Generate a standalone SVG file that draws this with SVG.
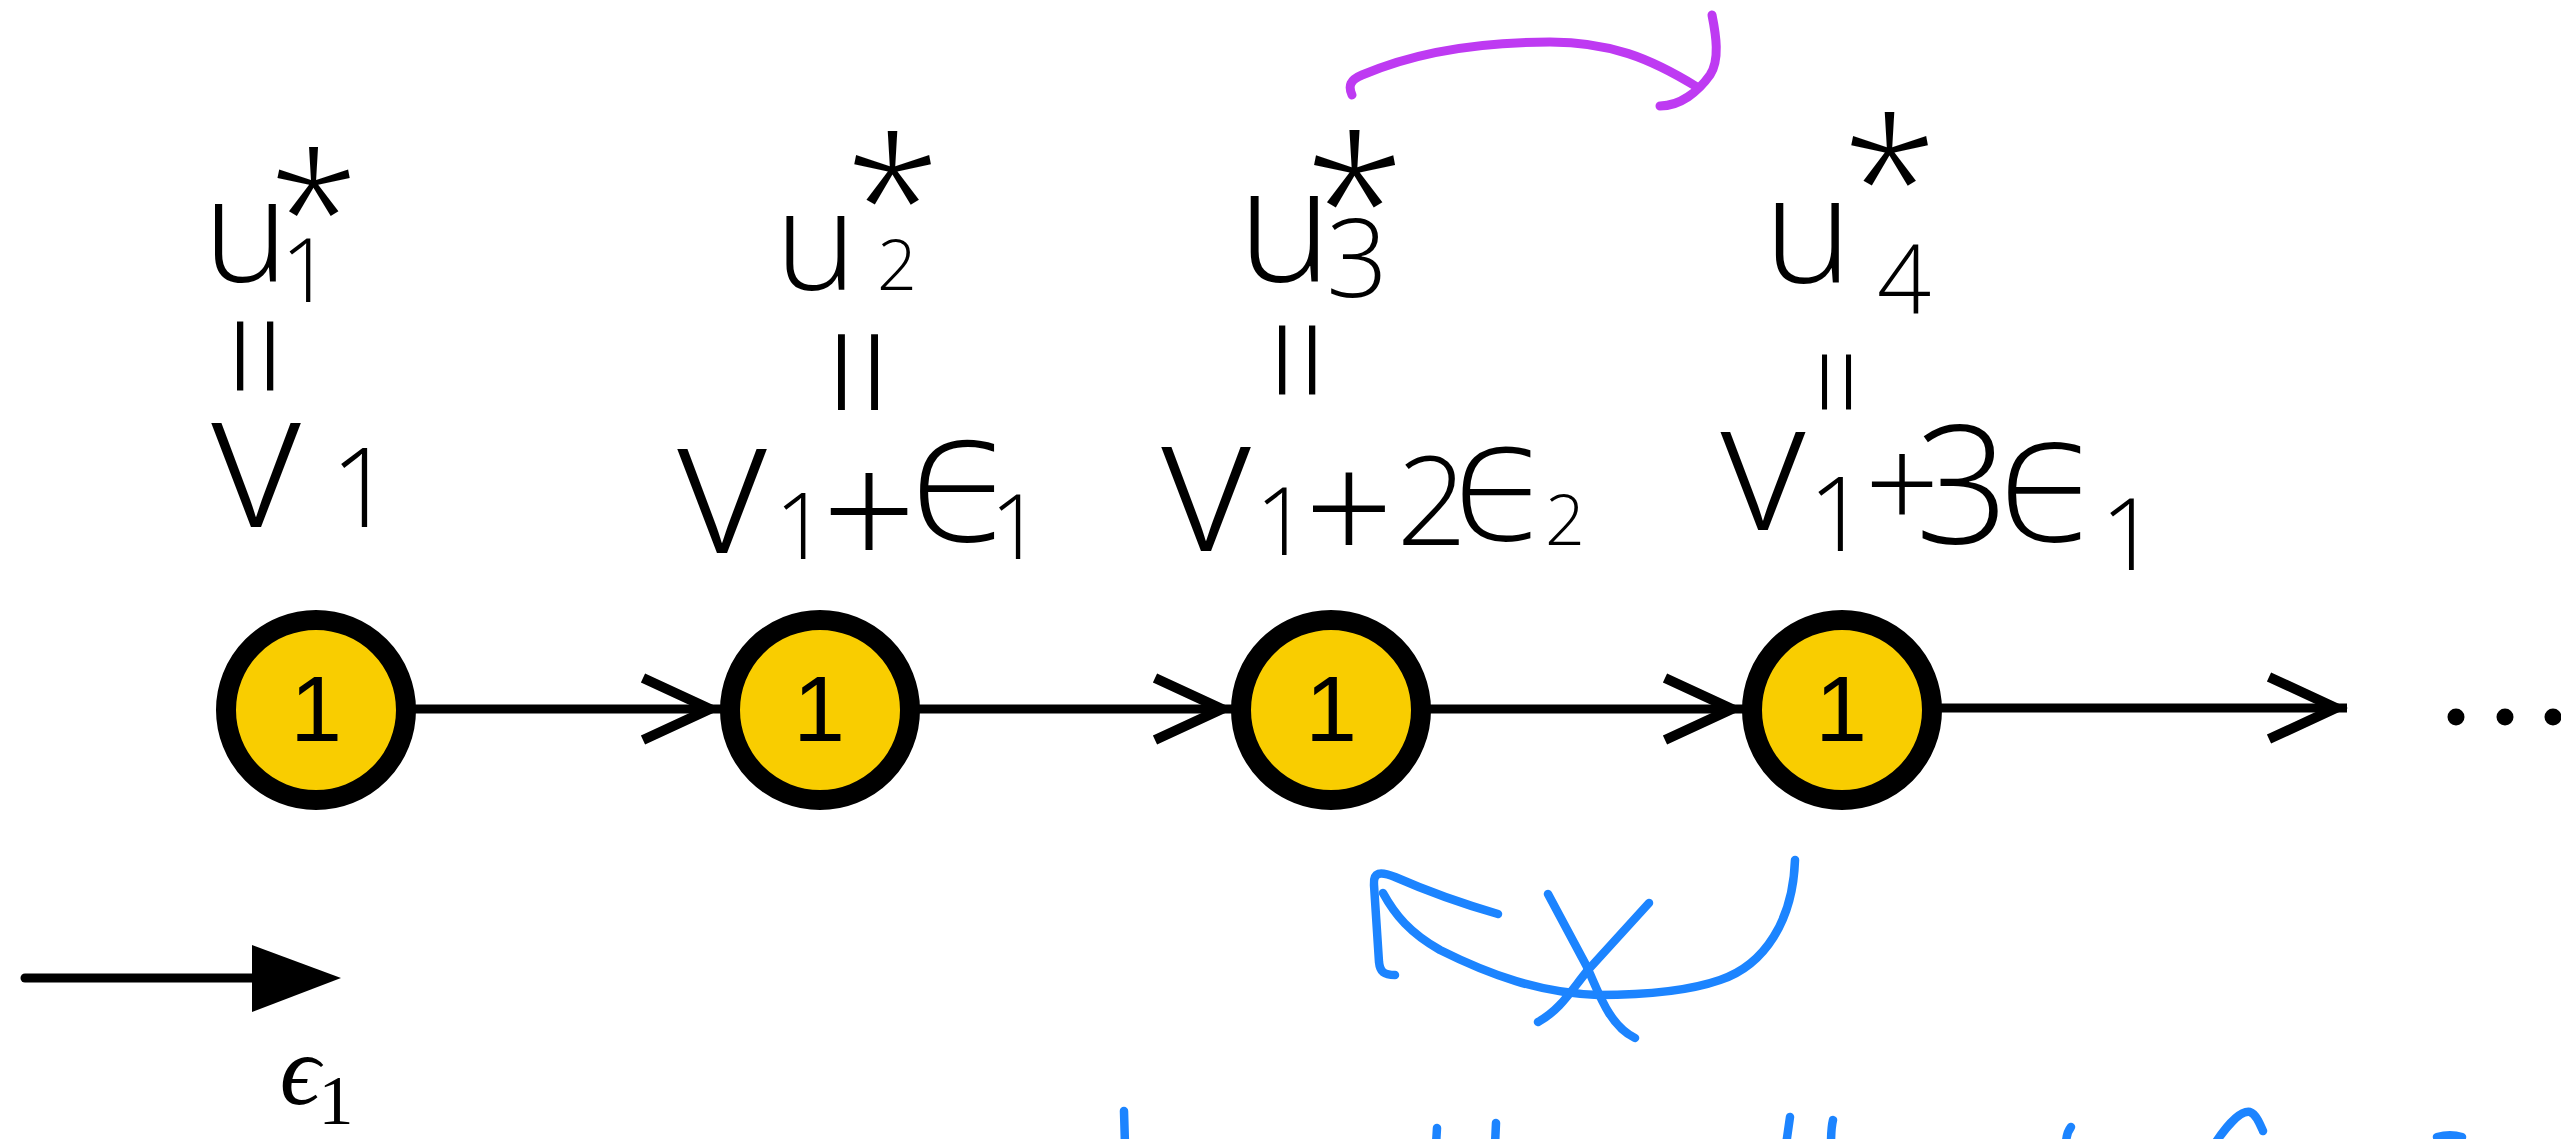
<svg xmlns="http://www.w3.org/2000/svg" width="2561" height="1139" viewBox="0 0 2561 1139">
<defs>
<style>
.node circle{fill:#F9CD00;stroke:#000;stroke-width:20}
.node text{font-family:"Liberation Sans",Arial,sans-serif;font-size:93px;text-anchor:middle;fill:#000}
.edge{stroke:#000;stroke-width:9;fill:none}
.hw{font-family:"Open Sans","DejaVu Sans ExtraLight","DejaVu Sans",sans-serif;font-weight:300;fill:#000;text-anchor:middle}
.purple{stroke:#BE3AF2;stroke-width:9;fill:none;stroke-linecap:round;stroke-linejoin:round}
.blue{stroke:#1C84FF;stroke-width:8.5;fill:none;stroke-linecap:round;stroke-linejoin:round}
.dot{fill:#000}
</style>
<marker id="chev" markerUnits="userSpaceOnUse" viewBox="-100 -45 110 90" markerWidth="110" markerHeight="90" refX="0" refY="0" orient="auto">
<path d="M-78,-31 L-11,0 L-78,31" fill="none" stroke="#000" stroke-width="10"/>
</marker>
</defs>
<rect width="2561" height="1139" fill="#fff"/>

<g id="connectors">
<path class="edge" d="M410,709 L721,709" marker-end="url(#chev)"/>
<path class="edge" d="M915,709 L1233,709" marker-end="url(#chev)"/>
<path class="edge" d="M1427,709 L1743,709" marker-end="url(#chev)"/>
<path class="edge" d="M1937,708 L2347,708" marker-end="url(#chev)"/>
</g>

<g id="node-1" class="node"><circle cx="316" cy="710" r="90"/><text x="316" y="741">1</text></g>
<g id="node-2" class="node"><circle cx="820" cy="710" r="90"/><text x="819" y="741">1</text></g>
<g id="node-3" class="node"><circle cx="1331" cy="710" r="90"/><text x="1331" y="741">1</text></g>
<g id="node-4" class="node"><circle cx="1842" cy="710" r="90"/><text x="1841" y="741">1</text></g>

<g id="ellipsis">
<circle class="dot" cx="2456" cy="717" r="8.5"/>
<circle class="dot" cx="2505" cy="717" r="8.5"/>
<circle class="dot" cx="2553" cy="717" r="8.5"/>
</g>

<g id="legend">
<path d="M25,978 L256,978" stroke="#000" stroke-width="9" stroke-linecap="round"/>
<path d="M252,945 L341,978 L252,1012 Z" fill="#000"/>
<text x="300" y="1104" font-family="'Liberation Serif','DejaVu Serif',serif" font-style="italic" font-size="100" text-anchor="middle">ϵ<tspan x="336" y="1124" font-style="normal" font-size="70">1</tspan></text>
</g>

<g id="label-u1">
<text class="hw"><tspan x="246" y="282" font-size="145">u</tspan><tspan x="306" y="302" font-size="88">1</tspan><tspan x="314" y="272" font-size="165">*</tspan></text>
<text class="hw" transform="translate(253,356) rotate(90)" y="51" font-size="150">=</text>
<text class="hw"><tspan x="256" y="527" font-size="195">v</tspan><tspan x="362" y="527" font-size="110">1</tspan></text>
</g>

<g id="label-u2">
<text class="hw"><tspan x="816" y="290" font-size="138">u</tspan><tspan x="897" y="290" font-size="70">2</tspan><tspan x="893" y="264" font-size="175">*</tspan></text>
<text class="hw" transform="translate(855,372) rotate(90)" y="55" font-size="165">=</text>
<text class="hw"><tspan x="722" y="553" font-size="195">v</tspan><tspan x="801" y="559" font-size="92">1</tspan><tspan x="869" y="570" font-size="165">+</tspan><tspan x="963" y="540" font-size="180">ϵ</tspan><tspan x="1016" y="559" font-size="90">1</tspan></text>
</g>

<g id="label-u3">
<text class="hw"><tspan x="1285" y="281" font-size="160">u</tspan><tspan x="1357" y="297" font-size="108">3</tspan><tspan x="1355" y="270" font-size="185">*</tspan></text>
<text class="hw" transform="translate(1295,360) rotate(90)" y="51" font-size="150">=</text>
<text class="hw"><tspan x="1206" y="551" font-size="195">v</tspan><tspan x="1282" y="555" font-size="94">1</tspan><tspan x="1349" y="563" font-size="155">+</tspan><tspan x="1432" y="545" font-size="124">2</tspan><tspan x="1502" y="540" font-size="165">ϵ</tspan><tspan x="1565" y="545" font-size="70">2</tspan></text>
</g>

<g id="label-u4">
<text class="hw"><tspan x="1808" y="283" font-size="150">u</tspan><tspan x="1904" y="314" font-size="95">4</tspan><tspan x="1890" y="245" font-size="175">*</tspan></text>
<text class="hw" transform="translate(1834,382) rotate(90)" y="40" font-size="120">=</text>
<text class="hw"><tspan x="1763" y="530" font-size="185">v</tspan><tspan x="1838" y="551" font-size="104">1</tspan><tspan x="1902" y="530" font-size="130">+</tspan><tspan x="1962" y="543" font-size="165">3</tspan><tspan x="2050" y="541" font-size="175">ϵ</tspan><tspan x="2129" y="570" font-size="100">1</tspan></text>
</g>

<g id="annotation-purple-arrow">
<path class="purple" d="M1352,95 C1348,86 1350,80 1362,75 C1420,50 1490,42 1550,42 C1610,42 1650,58 1697,87"/>
<path class="purple" d="M1712,15 C1716,35 1720,60 1710,75 C1698,92 1680,106 1660,106"/>
</g>

<g id="annotation-blue-crossed-arrow">
<path class="blue" stroke-width="9.5" d="M1795,860 C1793,920 1765,965 1720,980 C1680,994 1630,995 1598,995 C1540,993 1490,975 1440,950 C1410,933 1395,915 1383,893"/>
<path class="blue" d="M1498,914 C1460,903 1420,888 1395,877 C1380,871 1373,872 1374,885 L1379,962 C1380,972 1384,975 1395,975"/>
<path class="blue" d="M1548,894 L1586,965 C1598,990 1608,1025 1635,1038"/>
<path class="blue" d="M1649,903 L1588,970 C1570,992 1560,1010 1538,1022"/>
</g>

<g id="cut-off-ink">
<path class="blue" d="M1124,1111 L1125,1145"/>
<path class="blue" d="M1437,1128 L1436,1145"/>
<path class="blue" d="M1496,1123 L1495,1145"/>
<path class="blue" d="M1790,1117 L1786,1145"/>
<path class="blue" stroke-width="10" d="M1833,1120 C1831,1128 1831,1136 1831,1145"/>
<path class="blue" d="M2071,1127 C2067,1132 2066,1138 2066,1145"/>
<path class="blue" d="M2214,1145 C2225,1128 2240,1110 2250,1112 C2256,1114 2260,1124 2263,1131"/>
<path class="blue" d="M2437,1137 C2445,1135 2455,1135 2462,1137"/>
</g>
</svg>
